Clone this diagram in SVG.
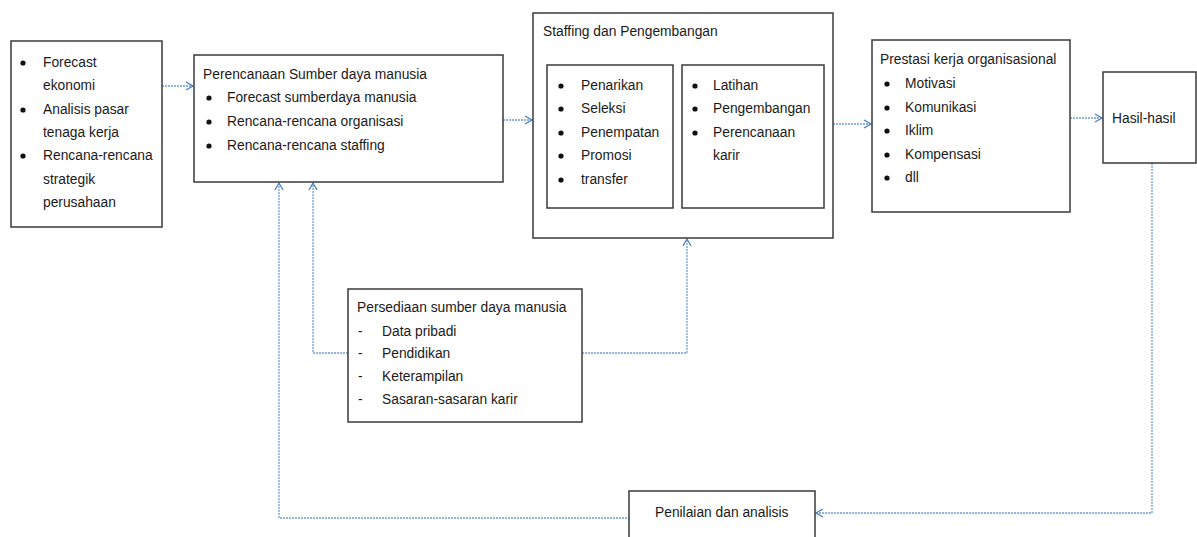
<svg xmlns="http://www.w3.org/2000/svg" width="1197" height="537" viewBox="0 0 1197 537">
<defs>
<marker id="arr" markerWidth="10" markerHeight="10" refX="8" refY="5" orient="auto" markerUnits="userSpaceOnUse">
<path d="M1,1 L8,5 L1,9" fill="none" stroke="#4a7ebb" stroke-width="1.3"/>
</marker>
<style>
.box{fill:#fff;stroke:#3a3a3a;stroke-width:1.5}
.t{font-family:"Liberation Sans",Arial,sans-serif;font-size:13.8px;fill:#1a1a1a}
.b{fill:#111}
.con{fill:none;stroke:#6f9bd6;stroke-width:1.3;stroke-dasharray:2 1}
</style>
</defs>
<rect width="1197" height="537" fill="#fff"/>

<g id="connectors">
<path class="con" d="M162,86 H193" marker-end="url(#arr)"/>
<path class="con" d="M503,120 H532" marker-end="url(#arr)"/>
<path class="con" d="M833,124 H871" marker-end="url(#arr)"/>
<path class="con" d="M1070,118 H1102" marker-end="url(#arr)"/>
<path class="con" d="M1152,163 V513 H816" marker-end="url(#arr)"/>
<path class="con" d="M630,518 H279 V183" marker-end="url(#arr)"/>
<path class="con" d="M348,353 H313 V183" marker-end="url(#arr)"/>
<path class="con" d="M582,353 H687 V239" marker-end="url(#arr)"/>
</g>

<g id="n-forecast">
<rect class="box" x="11" y="41" width="151" height="186"/>
<circle class="b" cx="23" cy="63" r="2.6"/>
<circle class="b" cx="23" cy="110" r="2.6"/>
<circle class="b" cx="23" cy="156" r="2.6"/>
<text class="t" x="43" y="67">Forecast</text>
<text class="t" x="43" y="90">ekonomi</text>
<text class="t" x="43" y="114">Analisis pasar</text>
<text class="t" x="43" y="137">tenaga kerja</text>
<text class="t" x="43" y="160">Rencana-rencana</text>
<text class="t" x="43" y="184">strategik</text>
<text class="t" x="43" y="207">perusahaan</text>
</g>

<g id="n-perencanaan">
<rect class="box" x="194" y="55" width="309" height="127"/>
<text class="t" x="203" y="79">Perencanaan Sumber daya manusia</text>
<circle class="b" cx="209" cy="98" r="2.6"/>
<circle class="b" cx="209" cy="122" r="2.6"/>
<circle class="b" cx="209" cy="146" r="2.6"/>
<text class="t" x="227" y="102">Forecast sumberdaya manusia</text>
<text class="t" x="227" y="126">Rencana-rencana organisasi</text>
<text class="t" x="227" y="150">Rencana-rencana staffing</text>
</g>

<g id="n-staffing">
<rect class="box" x="533" y="13" width="300" height="225"/>
<text class="t" x="543" y="36">Staffing dan Pengembangan</text>
<rect class="box" x="547" y="65" width="126" height="143" stroke-width="2"/>
<rect class="box" x="682" y="65" width="142" height="143" stroke-width="2"/>
<circle class="b" cx="561" cy="86" r="2.6"/>
<circle class="b" cx="561" cy="109" r="2.6"/>
<circle class="b" cx="561" cy="133" r="2.6"/>
<circle class="b" cx="561" cy="156" r="2.6"/>
<circle class="b" cx="561" cy="180" r="2.6"/>
<text class="t" x="581" y="90">Penarikan</text>
<text class="t" x="581" y="113">Seleksi</text>
<text class="t" x="581" y="137">Penempatan</text>
<text class="t" x="581" y="160">Promosi</text>
<text class="t" x="581" y="184">transfer</text>
<circle class="b" cx="695" cy="86" r="2.6"/>
<circle class="b" cx="695" cy="109" r="2.6"/>
<circle class="b" cx="695" cy="133" r="2.6"/>
<text class="t" x="713" y="90">Latihan</text>
<text class="t" x="713" y="113">Pengembangan</text>
<text class="t" x="713" y="137">Perencanaan</text>
<text class="t" x="713" y="160">karir</text>
</g>

<g id="n-prestasi">
<rect class="box" x="872" y="40" width="198" height="172"/>
<text class="t" x="880" y="64">Prestasi kerja organisasional</text>
<circle class="b" cx="887" cy="84" r="2.6"/>
<circle class="b" cx="887" cy="108" r="2.6"/>
<circle class="b" cx="887" cy="131" r="2.6"/>
<circle class="b" cx="887" cy="155" r="2.6"/>
<circle class="b" cx="887" cy="178" r="2.6"/>
<text class="t" x="905" y="88">Motivasi</text>
<text class="t" x="905" y="112">Komunikasi</text>
<text class="t" x="905" y="135">Iklim</text>
<text class="t" x="905" y="159">Kompensasi</text>
<text class="t" x="905" y="182">dll</text>
</g>

<g id="n-hasil">
<rect class="box" x="1103" y="72" width="93" height="91"/>
<text class="t" x="1112" y="123">Hasil-hasil</text>
</g>

<g id="n-persediaan">
<rect class="box" x="348" y="289" width="234" height="133"/>
<text class="t" x="357" y="312">Persediaan sumber daya manusia</text>
<text class="t" x="358" y="336">-</text>
<text class="t" x="358" y="358">-</text>
<text class="t" x="358" y="381">-</text>
<text class="t" x="358" y="404">-</text>
<text class="t" x="382" y="336">Data pribadi</text>
<text class="t" x="382" y="358">Pendidikan</text>
<text class="t" x="382" y="381">Keterampilan</text>
<text class="t" x="382" y="404">Sasaran-sasaran karir</text>
</g>

<g id="n-penilaian">
<rect class="box" x="629" y="491" width="186" height="60"/>
<text class="t" x="655" y="517">Penilaian dan analisis</text>
</g>
</svg>
